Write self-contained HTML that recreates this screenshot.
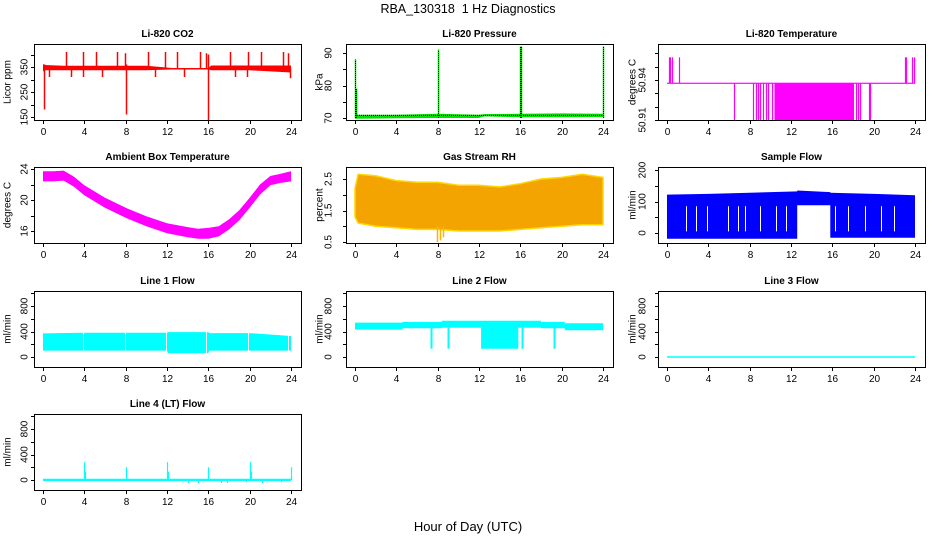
<!DOCTYPE html>
<html><head><meta charset="utf-8"><style>
html,body{margin:0;padding:0;background:#fff;}
svg{display:block;font-family:"Liberation Sans",sans-serif;}
</style></head><body>
<svg id="chart" width="936" height="540" viewBox="0 0 936 540" xmlns="http://www.w3.org/2000/svg">
<text x="468" y="13" text-anchor="middle" font-size="12.5">RBA_130318&#160; 1 Hz Diagnostics</text>
<text x="468" y="531" text-anchor="middle" font-size="13">Hour of Day (UTC)</text>
</svg>
<script>
// ---------- data ----------
const xTicks = [0,4,8,12,16,20,24];

const co2Hours = [0,0.15,2,6,10,12.5,16,16.3,20,24];
const co2Lo = [332,337,337,337,337,340,340,337,337,328];
const co2Hi = [362,358,355,355,355,346,346,356,356,356];
const co2SpikeHours = [0.05,2.2,3.9,5.1,7.2,7.9,8.0,10.2,11.8,13.0,15.2,15.8,16.0,18.1,19.8,21.1,23.2,23.7,0.6,2.7,3.9,5.7,10.8,13.6,18.6,19.7,23.9];
const co2SpikeLo = [180,340,340,340,340,340,160,340,340,340,340,340,135,340,340,340,340,340,310,310,310,310,310,310,310,310,305];
const co2SpikeHi = [360,410,410,410,410,405,360,410,410,410,410,405,400,410,410,410,410,405,345,345,345,345,345,345,345,345,345];

const presHours = [0,0.2,4,8,12,12.5,16,20,24];
const presLo = [69.8,69.8,69.9,70.0,70.0,70.5,70.2,70.2,70.3];
const presHi = [79,71.0,71.0,71.3,71.0,71.2,71.3,71.4,71.3];
const presSpikeHours = [0.02,0.1,8.0,16.0,16.02,24.0];
const presSpikeLo = [70,70,70,70,70,70];
const presSpikeHi = [88,79,91,92,92,92];

const ltHours = [0,10.4,10.4,18.1,18.1,24];
const ltLo = [50.9375,50.9375,50.91,50.91,50.9375,50.9375];
const ltHi = [50.9378,50.9378,50.9378,50.9378,50.9378,50.9378];
const ltSpikeHours = [0.2,0.3,0.5,1.2,23.0,23.1,23.7,23.9,6.5,8.3,8.6,8.8,9.0,9.3,9.6,9.8,10.2,18.3,18.5,18.7,19.5,19.6];
const ltSpikeLo = [50.9375,50.9375,50.9375,50.9375,50.9375,50.9375,50.9375,50.9375,50.91,50.91,50.91,50.91,50.91,50.91,50.91,50.91,50.91,50.91,50.91,50.91,50.91,50.91];
const ltSpikeHi = [50.957,50.957,50.957,50.957,50.957,50.957,50.957,50.957,50.9375,50.9375,50.9375,50.9375,50.9375,50.9375,50.9375,50.9375,50.9375,50.9375,50.9375,50.9375,50.9375,50.9375];

const ambHours = [0,1,2,3,4,6,8,10,12,14,15,16,17,18,19,20,21,22,23,24];
const ambLo = [22.4,22.4,22.5,21.7,20.6,19.0,17.7,16.6,15.7,15.2,15.0,15.0,15.3,16.2,17.4,19.0,20.7,21.9,22.2,22.4];
const ambHi = [23.7,23.7,23.8,23.0,21.9,20.3,19.0,17.9,17.0,16.5,16.3,16.4,16.6,17.5,18.7,20.3,22.0,23.1,23.4,23.7];

const rhHours = [0,0.3,2,4,6,8,10,12,14,16,18,20,22,24];
const rhLo = [1.3,1.1,1.0,0.95,0.9,0.9,0.85,0.85,0.85,0.9,0.95,1.0,1.05,1.05];
const rhHi = [2.2,2.65,2.6,2.45,2.4,2.4,2.3,2.3,2.25,2.35,2.5,2.55,2.65,2.55];
const rhSpikeHours = [7.9,8.2,8.5];
const rhSpikeLo = [0.5,0.55,0.65];
const rhSpikeHi = [1.0,1.0,1.0];

const sfHours = [0,4,8,12.6,12.6,15.8,15.8,20,24];
const sfLo = [-18,-18,-18,-18,88,88,-15,-15,-15];
const sfHi = [122,124,128,132,135,130,128,124,120];
const sfGapHours = [1.8,2.8,3.9,5.9,6.9,7.5,9.0,10.5,11.5,16.3,17.5,19.2,20.7,22.0];

const l1Hours = [0,4,8,12,12.1,16,16.1,20,24];
const l1Lo = [100,100,100,100,60,60,100,100,100];
const l1Hi = [370,380,380,380,390,390,375,375,330];
const l1GapHours = [3.9,7.9,11.9,15.8,19.8,23.7];

const l2Hours = [0,4.6,4.6,8.4,8.4,12.2,12.2,15.8,15.8,18,18,20.3,20.3,24];
const l2Lo = [430,430,450,450,460,460,130,130,460,460,450,450,420,420];
const l2Hi = [540,540,550,550,570,570,570,570,570,570,550,550,530,530];
const l2SpikeHours = [7.4,9.0,16.2,19.3];
const l2SpikeLo = [130,130,130,130];
const l2SpikeHi = [460,460,460,460];

const l3Hours = [0,24];
const l3Lo = [-12,-12];
const l3Hi = [12,12];

const l4Hours = [0,24];
const l4Lo = [-15,-15];
const l4Hi = [20,20];
const l4SpikeHours = [4.0,8.0,12.0,16.0,20.0,24.0,4.1,12.1,20.1,14.0,15.0,17.2,17.8,19.6,21.2,23.0];
const l4SpikeLo = [0,0,0,0,0,0,0,0,0,-45,-45,-45,-45,-35,-45,-35];
const l4SpikeHi = [280,200,280,200,280,200,130,130,130,0,0,0,0,0,0,0];

// ---------- drawing ----------
const NS = 'http://www.w3.org/2000/svg';
const svg = document.getElementById('chart');
function mk(tag, attrs, parent){
  const e = document.createElementNS(NS, tag);
  for (const k in attrs) e.setAttribute(k, attrs[k]);
  (parent||svg).appendChild(e);
  return e;
}
const colLeft = [34,346,658];
const colLab = [25,329,643];
const colTitle = [8,320,633];
const rowTop = [44,167,291,414];
const BW = 267, BH = 76;

function panel(name, title, ylabel, col, row, yA, yB, yTicks, yLabels){
  const g = mk('g', {});
  
  
  const L = colLeft[col], T = rowTop[row];
  const xs = h => L + 9 + h * (248/24);
  const ys = v => yA[1] + (v - yA[0]) * (yB[1]-yA[1]) / (yB[0]-yA[0]);
  const t = mk('text', {x: L + BW/2, y: T - 7, 'text-anchor':'middle', 'font-size':'10', 'font-weight':'bold'}, g);
  t.textContent = title;
  
  
  const yl = mk('text', {x: colTitle[col], y: T + BH/2, 'text-anchor':'middle', 'font-size':'10', transform:`rotate(-90 ${colTitle[col]} ${T+BH/2})`, 'dominant-baseline':'central'}, g);
  yl.textContent = ylabel;
  
  
  const ax = mk('g', {stroke:'#000','stroke-width':'1'}, g);
  
  
  xTicks.forEach(h => {
    const x = Math.round(xs(h)) + 0.5;
    mk('line', {x1:x, x2:x, y1:T+BH, y2:T+BH+4}, ax);
    const lt = mk('text', {x:x, y:T+BH+15, 'text-anchor':'middle', 'font-size':'10', stroke:'none'}, ax);
    lt.textContent = h;
  });
  yTicks.forEach(v => {
    const y = Math.round(ys(v)) + 0.5;
    mk('line', {x1:L-3, x2:L, y1:y, y2:y}, ax);
  });
  yLabels.forEach(v => {
    const y = ys(v);
    const lt = mk('text', {x:colLab[col], y:y, 'text-anchor':'middle', 'font-size':'10', stroke:'none', 'dominant-baseline':'central', transform:`rotate(-90 ${colLab[col]} ${y})`}, ax);
    lt.textContent = v;
  });
  const marks = mk('g', {}, g);
  
  
  mk('rect', {x:L+0.5, y:T+0.5, width:BW, height:BH, fill:'none', stroke:'#000'}, g);
  return {xs, ys, marks};
}
function band(p, hours, lo, hi, fill, name, stroke){
  let pts = hours.map((h,i)=>p.xs(h).toFixed(1)+','+p.ys(hi[i]).toFixed(1));
  for (let i=hours.length-1;i>=0;i--) pts.push(p.xs(hours[i]).toFixed(1)+','+p.ys(lo[i]).toFixed(1));
  const e = mk('polygon', {points: pts.join(' '), fill: fill}, p.marks);
  if (stroke) { e.setAttribute('stroke', stroke); e.setAttribute('stroke-width', '1.5'); }
  
  
}
function spikes(p, hours, lo, hi, color, name, w, dash){
  hours.forEach((h,i)=>{
    const x = Math.round(p.xs(h)) + 0.5;
    const e = mk('line', {x1:x, x2:x, y1:p.ys(lo[i]), y2:p.ys(hi[i]), stroke:color, 'stroke-width': w||1}, p.marks);
    if (dash) e.setAttribute('stroke-dasharray', dash);
    
    
  });
}

// CO2
let p = panel('co2', 'Li-820 CO2', 'Licor ppm', 0, 0, [150,117], [350,67], [150,200,250,300,350,400], [150,250,350]);
band(p, co2Hours, co2Lo, co2Hi, '#ff0000', 'co2-band');
spikes(p, co2SpikeHours, co2SpikeLo, co2SpikeHi, '#ff0000', 'co2-spike', 1.5);

// Pressure
p = panel('pressure', 'Li-820 Pressure', 'kPa', 1, 0, [70,118], [90,53], [70,75,80,85,90], [70,80,90]);
band(p, presHours, presLo, presHi, '#00e000', 'pressure-band');
spikes(p, presSpikeHours, presSpikeLo, presSpikeHi, '#00e000', 'pressure-spike', 1.5);
spikes(p, presSpikeHours, presSpikeLo, presSpikeHi, '#000', 'pressure-spike-dotted', 1, '1,1');
{ const e = mk('line', {x1:p.xs(0), x2:p.xs(24), y1:p.ys(70.8), y2:p.ys(70.8), stroke:'#000', 'stroke-dasharray':'1,1'}, p.marks);
  
   }

// Li-820 temperature
p = panel('licor-temp', 'Li-820 Temperature', 'degrees C', 2, 0, [50.91,120], [50.94,80], [50.91,50.92,50.93,50.94,50.95,50.96], [50.91,50.94]);
band(p, ltHours, ltLo, ltHi, '#ff00ff', 'licor-temp-band');
spikes(p, ltSpikeHours, ltSpikeLo, ltSpikeHi, '#ff00ff', 'licor-temp-spike', 1.2);
{ const e = mk('line', {x1:p.xs(0), x2:p.xs(24), y1:p.ys(50.9375), y2:p.ys(50.9375), stroke:'#ff00ff', 'stroke-width':1.2}, p.marks);
  
   }

// Ambient
p = panel('ambient-temp', 'Ambient Box Temperature', 'degrees C', 0, 1, [16,231], [24,169], [16,18,20,22,24], [16,20,24]);
band(p, ambHours, ambLo, ambHi, '#ff00ff', 'ambient-temp-band');

// RH
p = panel('gas-rh', 'Gas Stream RH', 'percent', 1, 1, [0.5,242], [2.5,179], [0.5,1,1.5,2,2.5], [0.5,1.5,2.5]);
band(p, rhHours, rhLo, rhHi, '#f4a400', 'gas-rh-band', '#ffd800');
spikes(p, rhSpikeHours, rhSpikeLo, rhSpikeHi, '#ffb000', 'gas-rh-spike', 1.5);

// Sample flow
p = panel('sample-flow', 'Sample Flow', 'ml/min', 2, 1, [0,233], [200,170], [0,50,100,150,200], [0,100,200]);
band(p, sfHours, sfLo, sfHi, '#0000ff', 'sample-flow-band');
spikes(p, sfGapHours, sfGapHours.map(()=>5), sfGapHours.map(()=>85), '#ffffff', 'sample-flow-gap', 1);

// Line 1
p = panel('line1-flow', 'Line 1 Flow', 'ml/min', 0, 2, [0,357], [800,306], [0,200,400,600,800,1000], [0,400,800]);
band(p, l1Hours, l1Lo, l1Hi, '#00ffff', 'line1-flow-band');
spikes(p, l1GapHours, l1GapHours.map(()=>40), l1GapHours.map(()=>420), '#ffffff', 'line1-flow-gap', 1);

// Line 2
p = panel('line2-flow', 'Line 2 Flow', 'ml/min', 1, 2, [0,357], [800,306], [0,200,400,600,800,1000], [0,400,800]);
band(p, l2Hours, l2Lo, l2Hi, '#00ffff', 'line2-flow-band');
spikes(p, l2SpikeHours, l2SpikeLo, l2SpikeHi, '#00ffff', 'line2-flow-spike', 2);

// Line 3
p = panel('line3-flow', 'Line 3 Flow', 'ml/min', 2, 2, [0,357], [800,306], [0,200,400,600,800,1000], [0,400,800]);
band(p, l3Hours, l3Lo, l3Hi, '#00ffff', 'line3-flow-band');

// Line 4
p = panel('line4-flow', 'Line 4 (LT) Flow', 'ml/min', 0, 3, [0,480], [800,429], [0,200,400,600,800,1000], [0,400,800]);
band(p, l4Hours, l4Lo, l4Hi, '#00ffff', 'line4-flow-band');
spikes(p, l4SpikeHours, l4SpikeLo, l4SpikeHi, '#00ffff', 'line4-flow-spike', 1.2);
</script>
</body></html>
